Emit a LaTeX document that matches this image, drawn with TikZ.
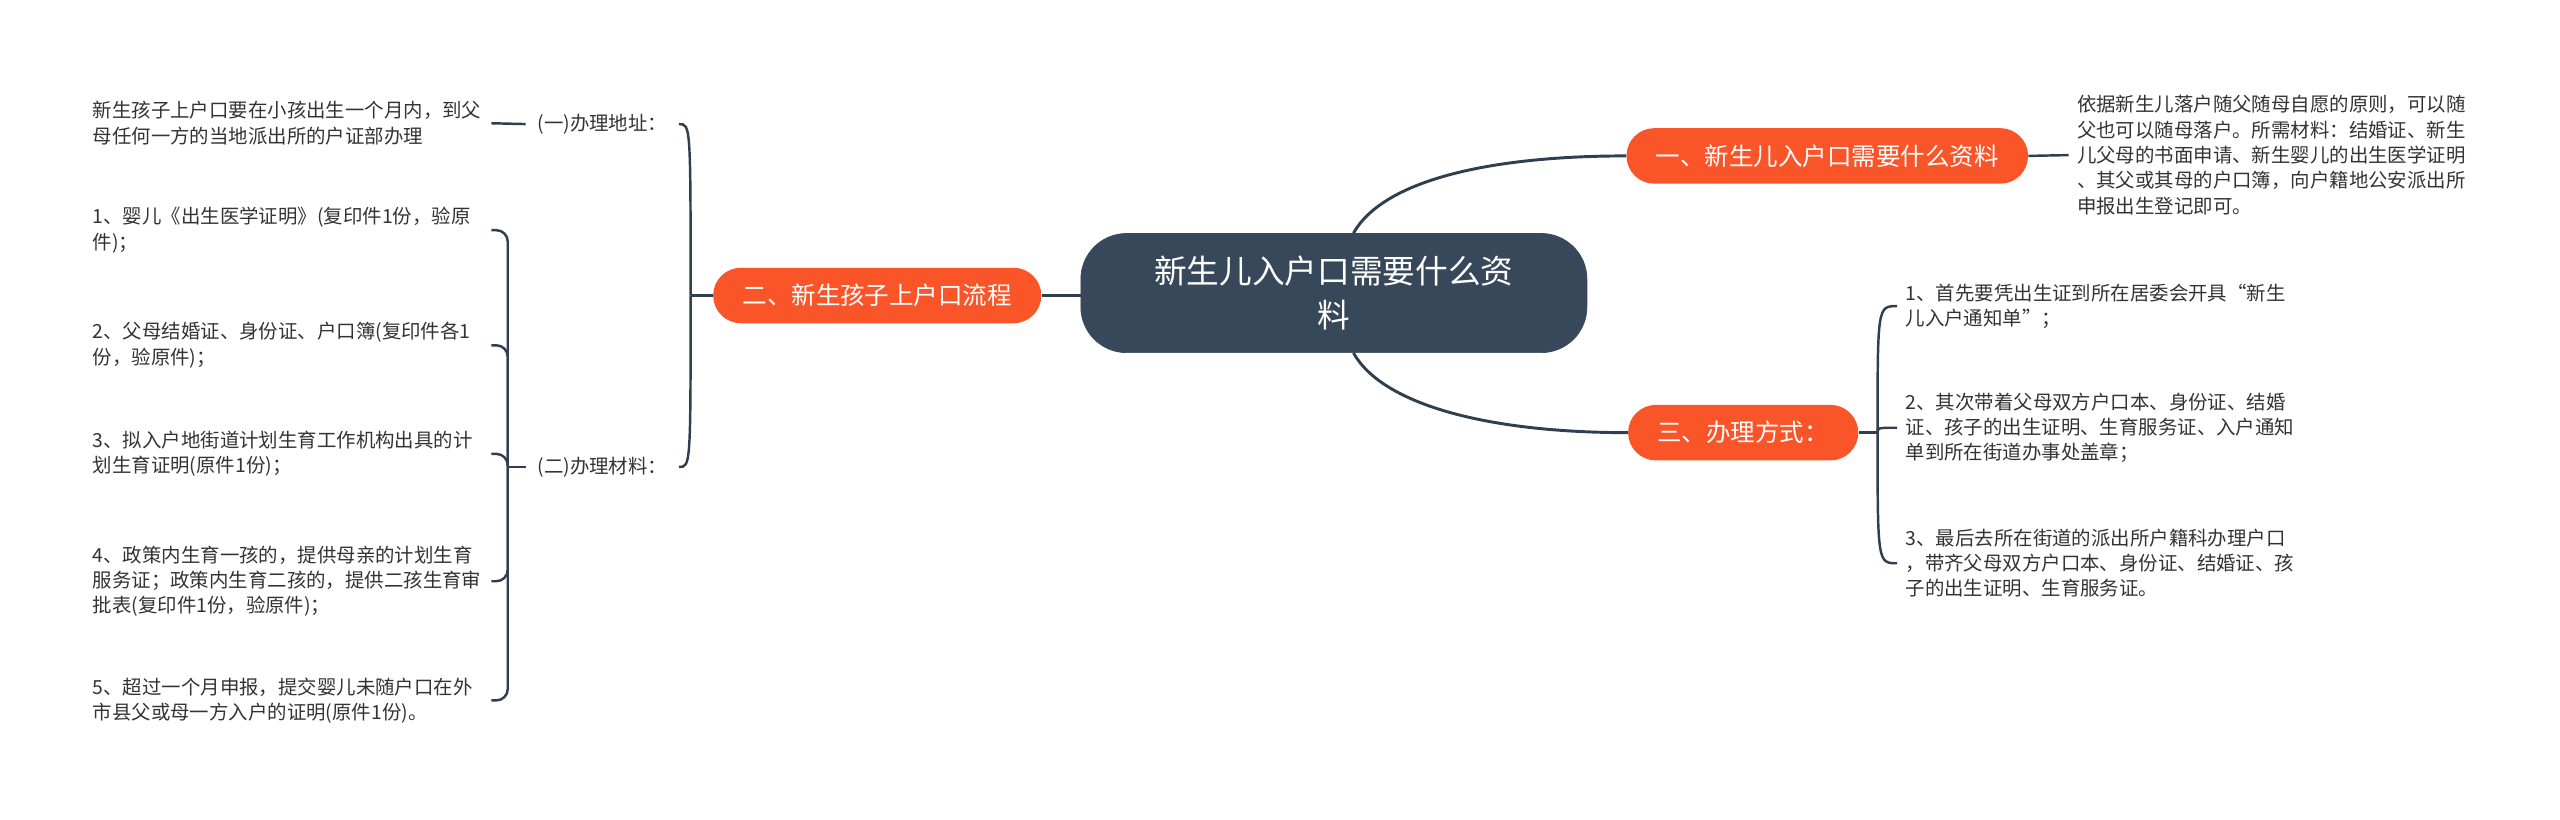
\documentclass[tikz,border=0pt]{standalone}
\usepackage{fontspec}
\setmainfont{Noto Sans CJK SC}
\usetikzlibrary{positioning}

\definecolor{rootfill}{HTML}{37485A}
\definecolor{branchfill}{HTML}{FA5429}
\definecolor{linkcol}{HTML}{2F3F4F}
\definecolor{leaftext}{HTML}{333333}

\tikzset{
  rootnode/.style={fill=rootfill, draw=rootfill, text=white, rounded corners=28pt,
    minimum width=310pt, minimum height=73pt, align=center,
    font=\fontsize{20}{27}\selectfont},
  branchnode/.style={fill=branchfill, text=white, rounded corners=17pt,
    minimum height=34pt, inner xsep=18pt, font=\fontsize{15}{18}\selectfont},
  leafnode/.style={text=leaftext, align=left, text width=240pt, inner xsep=4pt,
    font=\fontsize{11.9}{15.5}\selectfont},
  tagnode/.style={text=leaftext, inner xsep=7pt, font=\fontsize{11.9}{15.5}\selectfont},
  mainlink/.style={draw=linkcol, line width=1.8pt},
  sublink/.style={draw=linkcol, line width=1.5pt}
}

\begin{document}
\begin{tikzpicture}[x=1pt,y=-1pt]
    \useasboundingbox (0,0) rectangle (1568,502);
    % centre and main branches
    \node[rootnode] (root) at (817,179.5) {新生儿入户口需要什么资\\料};
    \node[branchnode, anchor=west] (one) at (996,95.5) {一、新生儿入户口需要什么资料};
    \node[branchnode, anchor=east] (two) at (638,181) {二、新生孩子上户口流程};
    \node[branchnode, anchor=west] (three) at (997,265) {三、办理方式：};
    \draw[mainlink] ([xshift=12pt]root.north) .. controls +(18,-32) and +(-85,0) .. (one.west);
    \draw[mainlink] ([xshift=12pt]root.south) .. controls +(18,32) and +(-85,0) .. (three.west);
    \draw[mainlink] (root.west |- two.east) -- (two.east);

    % branch one
    \node[leafnode, anchor=west, inner xsep=5pt] (onetext) at (1267,95) {依据新生儿落户随父随母自愿的原则，可以随\\父也可以随母落户。所需材料：结婚证、新生\\儿父母的书面申请、新生婴儿的出生医学证明\\、其父或其母的户口簿，向户籍地公安派出所\\申报出生登记即可。};
    \draw[sublink] (one.east) -- (onetext.west);

    % branch two
    \coordinate (jtwo) at (423,181);
    \node[tagnode, anchor=west] (addr) at (322,76) {(一)办理地址：};
    \node[tagnode, anchor=west] (mat) at (322,286) {(二)办理材料：};
    \draw[sublink] (two.west) -- (jtwo);
    \draw[sublink] (jtwo) .. controls (jtwo |- addr.east) .. (addr.east);
    \draw[sublink] (jtwo) .. controls (jtwo |- mat.east) .. (mat.east);
    \node[leafnode, anchor=east] (addrtext) at (301,75.5) {新生孩子上户口要在小孩出生一个月内，到父\\母任何一方的当地派出所的户证部办理};
    \draw[sublink] (addrtext.east) -- (addr.west);

    \node[leafnode, anchor=east] (m1) at (301,141) {1、婴儿《出生医学证明》(复印件1份，验原\\件)；};
    \node[leafnode, anchor=east] (m2) at (301,211.5) {2、父母结婚证、身份证、户口簿(复印件各1\\份，验原件)；};
    \node[leafnode, anchor=east] (m3) at (301,278) {3、拟入户地街道计划生育工作机构出具的计\\划生育证明(原件1份)；};
    \node[leafnode, anchor=east] (m4) at (301,356) {4、政策内生育一孩的，提供母亲的计划生育\\服务证；政策内生育二孩的，提供二孩生育审\\批表(复印件1份，验原件)；};
    \node[leafnode, anchor=east] (m5) at (301,429) {5、超过一个月申报，提交婴儿未随户口在外\\市县父或母一方入户的证明(原件1份)。};
    \coordinate (jmat) at (311,286);
    \draw[sublink] (mat.west) -- (jmat);
    \foreach \i in {1,...,5}
      \draw[sublink, rounded corners=7pt] (jmat) |- (m\i.east);

    % branch three
    \coordinate (jthree) at (1150,265);
    \node[leafnode, anchor=west, inner xsep=5pt] (r1) at (1162,187.5) {1、首先要凭出生证到所在居委会开具“新生\\儿入户通知单”；};
    \node[leafnode, anchor=west, inner xsep=5pt] (r2) at (1162,262) {2、其次带着父母双方户口本、身份证、结婚\\证、孩子的出生证明、生育服务证、入户通知\\单到所在街道办事处盖章；};
    \node[leafnode, anchor=west, inner xsep=5pt] (r3) at (1162,345) {3、最后去所在街道的派出所户籍科办理户口\\，带齐父母双方户口本、身份证、结婚证、孩\\子的出生证明、生育服务证。};
    \draw[sublink] (three.east) -- (jthree);
    \foreach \n in {r1,r2,r3}
      \draw[sublink] (jthree) .. controls (jthree |- \n.west) .. (\n.west);
\end{tikzpicture}
\end{document}
